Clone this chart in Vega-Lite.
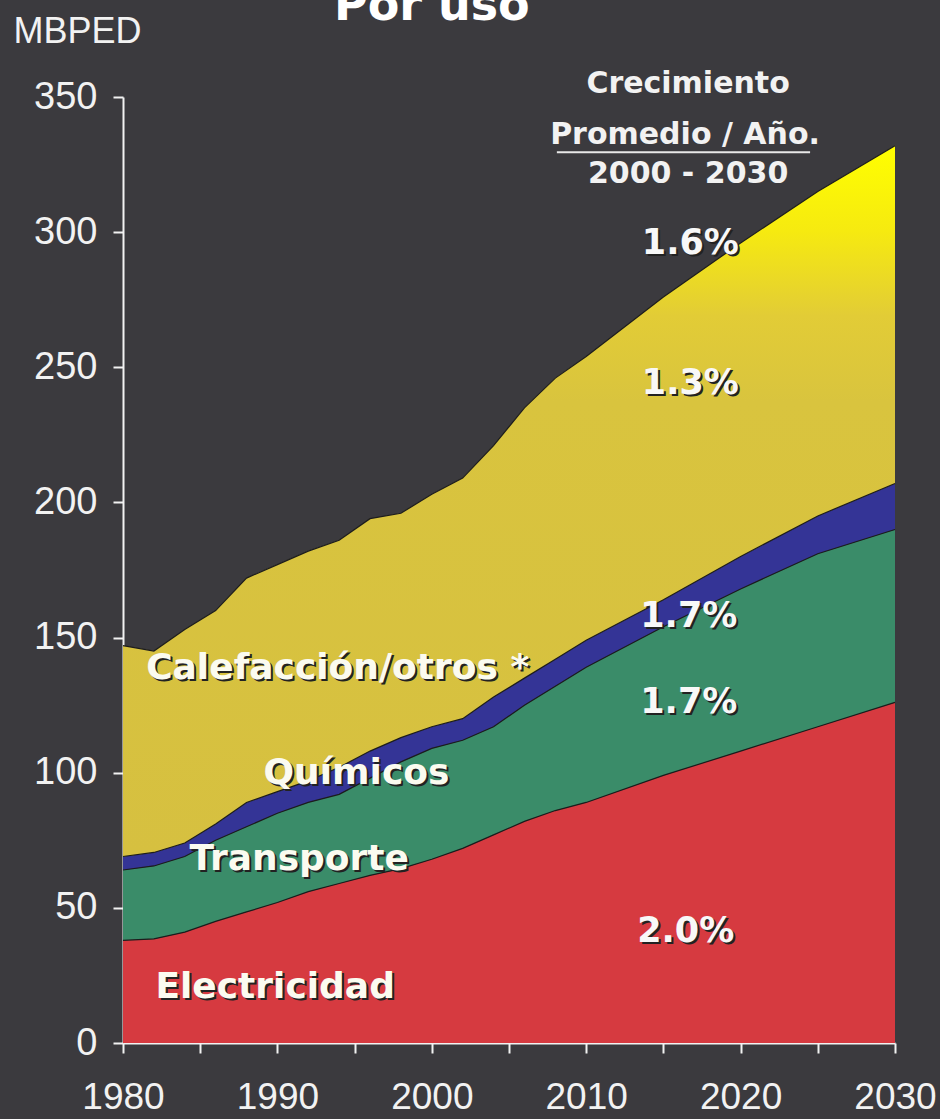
{
  "$schema": "https://vega.github.io/schema/vega-lite/v6.json",
  "width": 772,
  "height": 946,
  "autosize": {"type": "none"},
  "padding": {"left": 123, "top": 97, "right": 45, "bottom": 76},
  "background": "#3b3a3e",
  "config": {"view": {"stroke": null}, "font": "DejaVu Sans"},
  "datasets": {
    "consumo": [
      {"año": 1980, "uso": "Electricidad", "valor": 38}, {"año": 1980, "uso": "Transporte", "valor": 26}, {"año": 1980, "uso": "Químicos", "valor": 5}, {"año": 1980, "uso": "Calefacción/otros", "valor": 78},
      {"año": 1982, "uso": "Electricidad", "valor": 38.5}, {"año": 1982, "uso": "Transporte", "valor": 27}, {"año": 1982, "uso": "Químicos", "valor": 5}, {"año": 1982, "uso": "Calefacción/otros", "valor": 74.5},
      {"año": 1984, "uso": "Electricidad", "valor": 41}, {"año": 1984, "uso": "Transporte", "valor": 28}, {"año": 1984, "uso": "Químicos", "valor": 5}, {"año": 1984, "uso": "Calefacción/otros", "valor": 79},
      {"año": 1986, "uso": "Electricidad", "valor": 45}, {"año": 1986, "uso": "Transporte", "valor": 30}, {"año": 1986, "uso": "Químicos", "valor": 6}, {"año": 1986, "uso": "Calefacción/otros", "valor": 79},
      {"año": 1988, "uso": "Electricidad", "valor": 48.5}, {"año": 1988, "uso": "Transporte", "valor": 31.5}, {"año": 1988, "uso": "Químicos", "valor": 9}, {"año": 1988, "uso": "Calefacción/otros", "valor": 83},
      {"año": 1990, "uso": "Electricidad", "valor": 52}, {"año": 1990, "uso": "Transporte", "valor": 33}, {"año": 1990, "uso": "Químicos", "valor": 8}, {"año": 1990, "uso": "Calefacción/otros", "valor": 84},
      {"año": 1992, "uso": "Electricidad", "valor": 56}, {"año": 1992, "uso": "Transporte", "valor": 33}, {"año": 1992, "uso": "Químicos", "valor": 8}, {"año": 1992, "uso": "Calefacción/otros", "valor": 85},
      {"año": 1994, "uso": "Electricidad", "valor": 59}, {"año": 1994, "uso": "Transporte", "valor": 33}, {"año": 1994, "uso": "Químicos", "valor": 10}, {"año": 1994, "uso": "Calefacción/otros", "valor": 84},
      {"año": 1996, "uso": "Electricidad", "valor": 62}, {"año": 1996, "uso": "Transporte", "valor": 36}, {"año": 1996, "uso": "Químicos", "valor": 10}, {"año": 1996, "uso": "Calefacción/otros", "valor": 86},
      {"año": 1998, "uso": "Electricidad", "valor": 64.5}, {"año": 1998, "uso": "Transporte", "valor": 39.5}, {"año": 1998, "uso": "Químicos", "valor": 9}, {"año": 1998, "uso": "Calefacción/otros", "valor": 83},
      {"año": 2000, "uso": "Electricidad", "valor": 68}, {"año": 2000, "uso": "Transporte", "valor": 41}, {"año": 2000, "uso": "Químicos", "valor": 8}, {"año": 2000, "uso": "Calefacción/otros", "valor": 86},
      {"año": 2002, "uso": "Electricidad", "valor": 72}, {"año": 2002, "uso": "Transporte", "valor": 40}, {"año": 2002, "uso": "Químicos", "valor": 8}, {"año": 2002, "uso": "Calefacción/otros", "valor": 89},
      {"año": 2004, "uso": "Electricidad", "valor": 77}, {"año": 2004, "uso": "Transporte", "valor": 40}, {"año": 2004, "uso": "Químicos", "valor": 11}, {"año": 2004, "uso": "Calefacción/otros", "valor": 93},
      {"año": 2006, "uso": "Electricidad", "valor": 82}, {"año": 2006, "uso": "Transporte", "valor": 43}, {"año": 2006, "uso": "Químicos", "valor": 10}, {"año": 2006, "uso": "Calefacción/otros", "valor": 100},
      {"año": 2008, "uso": "Electricidad", "valor": 86}, {"año": 2008, "uso": "Transporte", "valor": 46}, {"año": 2008, "uso": "Químicos", "valor": 10}, {"año": 2008, "uso": "Calefacción/otros", "valor": 104},
      {"año": 2010, "uso": "Electricidad", "valor": 89}, {"año": 2010, "uso": "Transporte", "valor": 50}, {"año": 2010, "uso": "Químicos", "valor": 10}, {"año": 2010, "uso": "Calefacción/otros", "valor": 105},
      {"año": 2015, "uso": "Electricidad", "valor": 99}, {"año": 2015, "uso": "Transporte", "valor": 55}, {"año": 2015, "uso": "Químicos", "valor": 10}, {"año": 2015, "uso": "Calefacción/otros", "valor": 112},
      {"año": 2020, "uso": "Electricidad", "valor": 108}, {"año": 2020, "uso": "Transporte", "valor": 60}, {"año": 2020, "uso": "Químicos", "valor": 12}, {"año": 2020, "uso": "Calefacción/otros", "valor": 116},
      {"año": 2025, "uso": "Electricidad", "valor": 117}, {"año": 2025, "uso": "Transporte", "valor": 64}, {"año": 2025, "uso": "Químicos", "valor": 14}, {"año": 2025, "uso": "Calefacción/otros", "valor": 120},
      {"año": 2030, "uso": "Electricidad", "valor": 126}, {"año": 2030, "uso": "Transporte", "valor": 64}, {"año": 2030, "uso": "Químicos", "valor": 17}, {"año": 2030, "uso": "Calefacción/otros", "valor": 125}
    ],
    "series_etiquetas": [
      {"texto": "Calefacción/otros *", "año": 1981.5, "valor": 134.5},
      {"texto": "Químicos", "año": 1989.1, "valor": 96},
      {"texto": "Transporte", "año": 1984.3, "valor": 64},
      {"texto": "Electricidad", "año": 1982.1, "valor": 16.8}
    ],
    "porcentajes": [
      {"texto": "1.6%", "año": 2013.6, "valor": 292},
      {"texto": "1.3%", "año": 2013.6, "valor": 240},
      {"texto": "1.7%", "año": 2013.5, "valor": 154},
      {"texto": "1.7%", "año": 2013.5, "valor": 122},
      {"texto": "2.0%", "año": 2013.3, "valor": 37.5}
    ],
    "encabezado": [
      {"texto": "Crecimiento", "año": 2016.6, "valor": 351.5},
      {"texto": "Promedio / Año.", "año": 2016.4, "valor": 332.5},
      {"texto": "2000 - 2030", "año": 2016.6, "valor": 318.3}
    ],
    "titulo": [
      {"texto": "Por uso", "año": 2000, "valor": 378.5}
    ]
  },
  "layer": [
    {
      "data": {"name": "consumo"},
      "transform": [
        {"calculate": "indexof(['Electricidad','Transporte','Químicos','Calefacción/otros'], datum.uso)", "as": "orden"},
        {"stack": "valor", "groupby": ["año"], "sort": [{"field": "orden", "order": "ascending"}], "as": ["y0", "y1"]}
      ],
      "layer": [
        {
          "mark": {"type": "area", "interpolate": "linear"},
          "encoding": {
            "x": {
              "field": "año", "type": "quantitative",
              "scale": {"domain": [1980, 2030], "nice": false, "zero": false},
              "axis": {
                "title": null, "grid": false,
                "values": [1980, 1985, 1990, 1995, 2000, 2005, 2010, 2015, 2020, 2025, 2030],
                "format": "d",
                "labelExpr": "datum.value % 10 === 0 ? datum.label : ''",
                "labelOverlap": false, "labelFlush": false, "labelBound": false,
                "domainColor": "#f2f2f2", "domainWidth": 2,
                "tickColor": "#f2f2f2", "tickWidth": 2, "tickSize": 10,
                "labelColor": "#f2f2f2", "labelFont": "Liberation Sans", "labelFontSize": 37,
                "labelPadding": 26
              }
            },
            "y": {
              "field": "y1", "type": "quantitative",
              "scale": {"domain": [0, 350], "nice": false},
              "axis": {
                "title": "MBPED", "titleAngle": 0, "titleAlign": "left", "titleBaseline": "alphabetic",
                "titleX": -110, "titleY": -55, "titleFont": "Liberation Sans", "titleFontSize": 36,
                "titleFontWeight": "normal", "titleColor": "#f2f2f2",
                "grid": false,
                "values": [0, 50, 100, 150, 200, 250, 300, 350],
                "domainColor": "#f2f2f2", "domainWidth": 2,
                "tickColor": "#f2f2f2", "tickWidth": 2, "tickSize": 10,
                "labelColor": "#f2f2f2", "labelFont": "Liberation Sans", "labelFontSize": 38,
                "labelPadding": 16
              }
            },
            "y2": {"field": "y0"},
            "color": {
              "field": "uso", "type": "nominal", "legend": null,
              "scale": {
                "domain": ["Electricidad", "Transporte", "Químicos", "Calefacción/otros"],
                "range": ["#d63a40", "#3a8c69", "#343496", "#d8c440"]
              }
            }
          }
        },
        {
          "transform": [{"filter": "datum.uso === 'Calefacción/otros'"}],
          "mark": {
            "type": "area", "interpolate": "linear",
            "fill": {
              "x1": 0, "y1": 0, "x2": 0, "y2": 1, "gradient": "linear",
              "stops": [
                {"offset": 0, "color": "#ffff00"},
                {"offset": 0.12, "color": "#f6ea10"},
                {"offset": 0.24, "color": "#e2cc36"},
                {"offset": 0.36, "color": "#d9c43e"},
                {"offset": 1, "color": "#d6c040"}
              ]
            }
          },
          "encoding": {
            "x": {"field": "año", "type": "quantitative"},
            "y": {"field": "y1", "type": "quantitative"},
            "y2": {"field": "y0"}
          }
        },
        {
          "mark": {"type": "line", "interpolate": "linear", "color": "#1c1c1c", "strokeWidth": 1.2},
          "encoding": {
            "x": {"field": "año", "type": "quantitative"},
            "y": {"field": "y1", "type": "quantitative"},
            "detail": {"field": "uso"}
          }
        }
      ]
    },
    {
      "data": {"name": "series_etiquetas"},
      "layer": [
        {
          "mark": {"type": "text", "align": "left", "baseline": "alphabetic", "font": "DejaVu Sans", "fontWeight": "bold", "fontSize": 36, "color": "#222222", "dx": 2, "dy": 2},
          "encoding": {
            "x": {"field": "año", "type": "quantitative"},
            "y": {"field": "valor", "type": "quantitative"},
            "text": {"field": "texto"}
          }
        },
        {
          "mark": {"type": "text", "align": "left", "baseline": "alphabetic", "font": "DejaVu Sans", "fontWeight": "bold", "fontSize": 36, "color": "#fbfbf0"},
          "encoding": {
            "x": {"field": "año", "type": "quantitative"},
            "y": {"field": "valor", "type": "quantitative"},
            "text": {"field": "texto"}
          }
        }
      ]
    },
    {
      "data": {"name": "porcentajes"},
      "layer": [
        {
          "mark": {"type": "text", "align": "left", "baseline": "alphabetic", "font": "DejaVu Sans", "fontWeight": "bold", "fontSize": 35, "color": "#222222", "dx": 2, "dy": 2},
          "encoding": {
            "x": {"field": "año", "type": "quantitative"},
            "y": {"field": "valor", "type": "quantitative"},
            "text": {"field": "texto"}
          }
        },
        {
          "mark": {"type": "text", "align": "left", "baseline": "alphabetic", "font": "DejaVu Sans", "fontWeight": "bold", "fontSize": 35, "color": "#f8f8f8"},
          "encoding": {
            "x": {"field": "año", "type": "quantitative"},
            "y": {"field": "valor", "type": "quantitative"},
            "text": {"field": "texto"}
          }
        }
      ]
    },
    {
      "data": {"name": "encabezado"},
      "mark": {"type": "text", "align": "center", "baseline": "alphabetic", "font": "DejaVu Sans", "fontWeight": "bold", "fontSize": 30, "color": "#f2f2f2"},
      "encoding": {
        "x": {"field": "año", "type": "quantitative"},
        "y": {"field": "valor", "type": "quantitative"},
        "text": {"field": "texto"}
      }
    },
    {
      "data": {"values": [{}]},
      "mark": {"type": "rule", "color": "#e8e8e8", "strokeWidth": 2},
      "encoding": {
        "x": {"datum": 2008.1, "type": "quantitative"},
        "x2": {"datum": 2024.5},
        "y": {"datum": 329.6, "type": "quantitative"}
      }
    },
    {
      "data": {"name": "titulo"},
      "mark": {"type": "text", "align": "center", "baseline": "alphabetic", "font": "DejaVu Sans", "fontWeight": "bold", "fontSize": 46, "color": "#ffffff"},
      "encoding": {
        "x": {"field": "año", "type": "quantitative"},
        "y": {"field": "valor", "type": "quantitative"},
        "text": {"field": "texto"}
      }
    }
  ]
}
